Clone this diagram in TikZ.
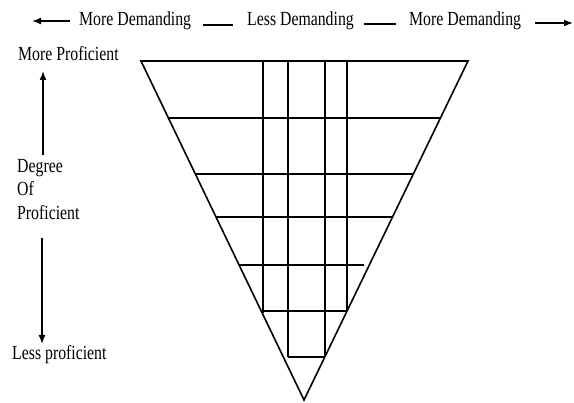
\documentclass[tikz,border=0pt]{standalone}
\usepackage{fontspec}
\setmainfont{Liberation Serif}[FakeStretch=0.79]
\usetikzlibrary{arrows.meta}
\tikzset{
  lbl/.style={inner sep=0pt, anchor=base west, font=\fontsize{20}{23.5}\selectfont},
  grid/.style={line width=1.6pt},
  arr/.style={line width=1.6pt, -{Latex[length=9pt,width=7pt]}},
}
\begin{document}
\begin{tikzpicture}[x=1pt,y=-1pt]
\useasboundingbox (0,0) rectangle (574,403);
% header
\node[lbl] (md1) at (79,26) {More Demanding};
\node[lbl] (ld) at (247,26) {Less Demanding};
\node[lbl] (md2) at (409,26) {More Demanding};
\coordinate (ltip) at (32,21);
\coordinate (lstart) at (70,21);
\coordinate (rstart) at (535,23);
\coordinate (rtip) at (573,23);
\draw[arr] (lstart) -- (ltip);
\draw[arr] (rstart) -- (rtip);
\coordinate (d1a) at (203,25); \coordinate (d1b) at (233,25);
\coordinate (d2a) at (364,24); \coordinate (d2b) at (396,24);
\draw[grid] (d1a) -- (d1b);
\draw[grid] (d2a) -- (d2b);
% left labels
\node[lbl] (mp) at (18,61) {More Proficient};
\node[lbl] (deg) at (17,173) {Degree};
\node[lbl] (of) at (17,196) {Of};
\node[lbl] (prof) at (17,220) {Proficient};
\node[lbl] (lp) at (12,360) {Less proficient};
\coordinate (ub) at (43,155); \coordinate (ut) at (43,71);
\coordinate (db) at (42,238); \coordinate (dt) at (42,344);
\draw[arr] (ub) -- (ut);
\draw[arr] (db) -- (dt);
% triangle
\coordinate (TL) at (141,61);
\coordinate (TR) at (468,61);
\coordinate (AP) at (304,400);
\draw[grid, line join=miter] (TL) -- (TR) -- (AP) -- cycle;
% horizontal lines
\draw[grid] (169,118) -- (441,118);
\draw[grid] (195,174) -- (413,174);
\draw[grid] (216,217) -- (392.5,217);
\draw[grid] (239,265) -- (364,265);
\draw[grid] (261,311) -- (347,311);
\draw[grid] (288,357) -- (325,357);
% vertical lines
\draw[grid] (263,61) -- (263,313);
\draw[grid] (288,61) -- (288,357);
\draw[grid] (325,61) -- (325,357);
\draw[grid] (347,61) -- (347,311);
\end{tikzpicture}
\end{document}
